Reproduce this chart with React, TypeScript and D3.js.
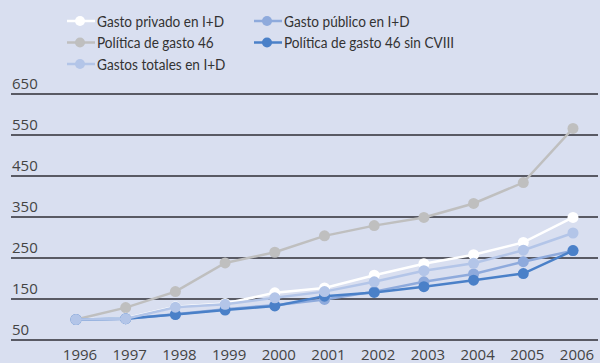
import React from "react";
import * as d3 from "d3";

const years = [1996, 1997, 1998, 1999, 2000, 2001, 2002, 2003, 2004, 2005, 2006];
const privado = [100, 103, 131, 139, 165, 177, 208, 236, 258, 288, 349];
const politica46 = [100, 129, 168, 238, 264, 304, 329, 349, 383, 434, 566];
const totales = [100, 102, 130, 137, 153, 168, 192, 219, 237, 269, 311];
const publico = [100, 102, 113, 125, 135, 149, 168, 192, 211, 241, 268];
const sinCVIII = [100, 102, 112, 123, 133, 157, 166, 180, 196, 212, 268];
const yTicks = [50, 150, 250, 350, 450, 550, 650];

const series = [
  { name: "Política de gasto 46", values: politica46, color: "#bfbfbf" },
  { name: "Gasto privado en I+D", values: privado, color: "#ffffff" },
  { name: "Gasto público en I+D", values: publico, color: "#8eaadc" },
  { name: "Política de gasto 46 sin CVIII", values: sinCVIII, color: "#4a80c8" },
  { name: "Gastos totales en I+D", values: totales, color: "#b3c5e8" },
];

const legend = [
  { name: "Gasto privado en I+D", color: "#ffffff", col: 0, row: 0 },
  { name: "Gasto público en I+D", color: "#8eaadc", col: 1, row: 0 },
  { name: "Política de gasto 46", color: "#bfbfbf", col: 0, row: 1 },
  { name: "Política de gasto 46 sin CVIII", color: "#4a80c8", col: 1, row: 1 },
  { name: "Gastos totales en I+D", color: "#b3c5e8", col: 0, row: 2 },
];

export default function App() {
  const W = 600, H = 363;
  const x = d3.scaleLinear().domain([1996, 2006]).range([76, 573]);
  const y = d3.scaleLinear().domain([50, 650]).range([340, 94]);
  const line = d3
    .line<number>()
    .x((_, i) => x(years[i]))
    .y((d) => y(d));
  const font = "'Open Sans', sans-serif";
  const lfont = "Lato, sans-serif";
  return (
    <svg
      width={W}
      height={H}
      style={{ position: "absolute", left: 0, top: 0, background: "#d9dff0" }}
    >
      <rect width={W} height={H} fill="#d9dff0" />
      {yTicks.map((t) => (
        <g key={t}>
          <line x1={11} x2={598} y1={y(t)} y2={y(t)} stroke="#2e2e36" strokeWidth={1.4} />
          <text x={12} y={y(t) - 5} fontFamily={font} fontSize={15} fill="#444">
            {t}
          </text>
        </g>
      ))}
      {years.map((yr) => (
        <text
          key={yr}
          x={x(yr) + 4}
          y={360}
          textAnchor="middle"
          fontFamily={font}
          fontSize={15}
          fill="#444"
        >
          {yr}
        </text>
      ))}
      {series.map((s) => (
        <g key={s.name}>
          <path d={line(s.values) || ""} fill="none" stroke={s.color} strokeWidth={2.5} />
          {s.values.map((v, i) => (
            <circle key={i} cx={x(years[i])} cy={y(v)} r={5.5} fill={s.color} />
          ))}
        </g>
      ))}
      {legend.map((l) => {
        const lx = l.col === 0 ? 67 : 254;
        const ly = 21 + l.row * 21.5;
        return (
          <g key={l.name}>
            <line x1={lx} x2={lx + 28} y1={ly} y2={ly} stroke={l.color} strokeWidth={2.5} />
            <circle cx={lx + 13} cy={ly} r={5} fill={l.color} />
            <text
              transform={`translate(${lx + 30},${ly + 5.5}) scale(0.85,1)`}
              fontFamily={lfont}
              fontSize={16}
              fill="#333"
            >
              {l.name}
            </text>
          </g>
        );
      })}
    </svg>
  );
}
